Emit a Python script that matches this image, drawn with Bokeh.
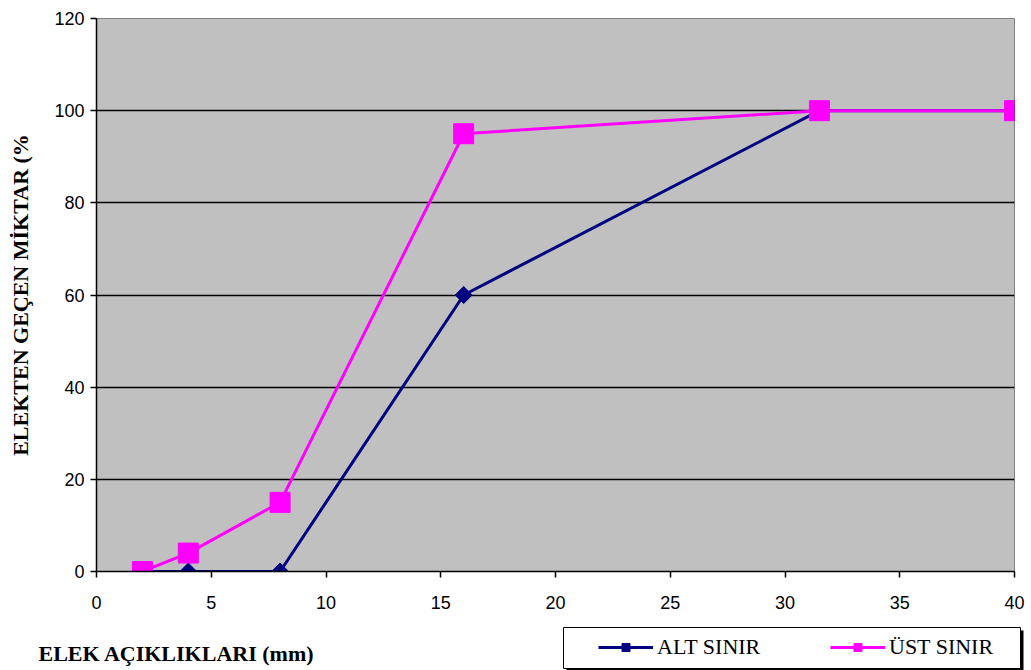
import numpy as np
from bokeh.plotting import figure
from bokeh.layouts import column, row
from bokeh.models import (FixedTicker, Legend, LegendItem, Range1d, Label,
                          BoxAnnotation)
from bokeh.embed import file_html
from bokeh.resources import INLINE

# ---- data ----
sieve_mm = [2, 4, 8, 16, 31.5, 40]
alt_sinir = [0, 0, 0, 60, 100, 100]
ust_sinir = [0, 4, 15, 95, 100, 100]
x_ticks = [0, 5, 10, 15, 20, 25, 30, 35, 40]
y_ticks = [0, 20, 40, 60, 80, 100, 120]
x_title = "ELEK AÇIKLIKLARI (mm)"
y_title = "ELEKTEN GEÇEN MİKTAR (%"
names = ["ALT SINIR", "ÜST SINIR"]

NAVY = "#000080"
MAGENTA = "#ff00ff"

# ================= main chart =================
p = figure(width=1031, height=620, output_backend="svg", toolbar_location=None,
           x_range=Range1d(0, 40), y_range=Range1d(0, 120),
           min_border_left=96, min_border_right=17, min_border_top=18,
           min_border_bottom=49)

p.background_fill_color = "#c0c0c0"
p.border_fill_color = "white"
p.outline_line_color = "#808080"
p.outline_line_width = 1

p.xgrid.visible = False
p.ygrid.ticker = FixedTicker(ticks=y_ticks[1:-1])
p.ygrid.grid_line_color = "black"
p.ygrid.grid_line_width = 1.5

for ax, ticks in ((p.xaxis[0], x_ticks), (p.yaxis[0], y_ticks)):
    ax.ticker = FixedTicker(ticks=ticks)
    ax.axis_line_color = "black"
    ax.axis_line_width = 1.5
    ax.major_tick_line_color = "black"
    ax.major_tick_line_width = 1.5
    ax.major_tick_out = 6
    ax.major_tick_in = 0
    ax.minor_tick_line_color = None
    ax.major_label_text_font = "Liberation Sans"
    ax.major_label_text_font_size = "18px"
    ax.major_label_text_color = "black"

p.xaxis.major_label_standoff = 18
p.yaxis.major_label_standoff = 6

p.yaxis.axis_label = y_title
p.yaxis.axis_label_text_font = "Liberation Serif"
p.yaxis.axis_label_text_font_style = "bold"
p.yaxis.axis_label_text_font_size = "22px"
p.yaxis.axis_label_text_color = "black"
p.yaxis.axis_label_standoff = 18

p.line(sieve_mm, alt_sinir, line_color=NAVY, line_width=3)
p.scatter(sieve_mm, alt_sinir, marker="square", angle=np.pi / 4, size=12,
          fill_color=NAVY, line_color=NAVY)
p.line(sieve_mm, ust_sinir, line_color=MAGENTA, line_width=3)
p.scatter(sieve_mm, ust_sinir, marker="square", size=20,
          fill_color=MAGENTA, line_color=MAGENTA)

# ================= bottom strip: x title + legend =================
# data units of this strip equal pixels (from its bottom-left corner)
q = figure(width=1031, height=50, output_backend="svg", toolbar_location=None,
           x_range=Range1d(0, 1031), y_range=Range1d(0, 50),
           x_axis_location=None, y_axis_location=None,
           min_border_left=0, min_border_right=0, min_border_top=0,
           min_border_bottom=0)
q.grid.visible = False
q.outline_line_color = None
q.background_fill_color = "white"
q.border_fill_color = "white"
q.extra_x_ranges = {"off": Range1d(1000, 1001)}

ql1 = q.line(sieve_mm, alt_sinir, line_color=NAVY, line_width=3, x_range_name="off")
qm1 = q.scatter(sieve_mm, alt_sinir, marker="square", angle=np.pi / 4, size=12,
                fill_color=NAVY, line_color=NAVY, x_range_name="off")
ql2 = q.line(sieve_mm, ust_sinir, line_color=MAGENTA, line_width=3, x_range_name="off")
qm2 = q.scatter(sieve_mm, ust_sinir, marker="square", size=20,
                fill_color=MAGENTA, line_color=MAGENTA, x_range_name="off")

q.add_layout(Label(x=38, y=17, text=x_title, text_font="Liberation Serif",
                   text_font_style="bold", text_font_size="22px",
                   text_color="black", text_baseline="middle"))

# legend frame with shadow
q.add_layout(BoxAnnotation(left=566, right=1023, bottom=0, top=40,
                           fill_color="black", fill_alpha=1, line_color=None))
q.add_layout(BoxAnnotation(left=563, right=1020, bottom=2, top=43,
                           fill_color="white", fill_alpha=1, line_color="black",
                           line_width=1, line_alpha=1))

legend = Legend(items=[LegendItem(label=names[0], renderers=[ql1, qm1]),
                       LegendItem(label=names[1], renderers=[ql2, qm2])],
                orientation="horizontal", location=(598, 10),
                padding=0, margin=0, spacing=62,
                glyph_width=55, glyph_height=20, label_standoff=4,
                label_width=111,
                label_text_font="Liberation Serif", label_text_font_size="22px",
                label_text_color="black",
                border_line_alpha=0, background_fill_alpha=0)
q.add_layout(legend)

layout = column(p, row(q), spacing=0)
open("out.html", "w").write(file_html(layout, INLINE))
